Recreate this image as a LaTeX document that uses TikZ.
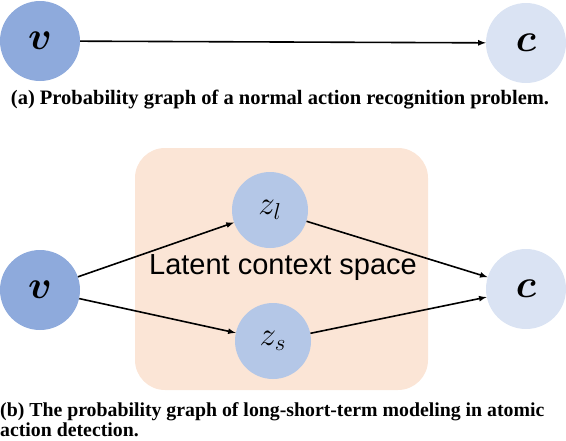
\documentclass[tikz,border=0pt]{standalone}
\usepackage{amsmath}
\usepackage{bm}
\usepackage{graphicx}
\usepackage{fontspec}
\setmainfont{Liberation Serif}
\newfontfamily\ctxfont{Liberation Sans}
\usepackage{tikz}

\definecolor{vblue}{RGB}{142,170,220}
\definecolor{zblue}{RGB}{180,199,231}
\definecolor{cblue}{RGB}{218,227,243}
\definecolor{peach}{RGB}{251,229,214}

\newcommand{\bigvar}[2]{\scalebox{#1}{$#2$}}

\begin{document}
\begin{tikzpicture}[x=1pt,y=-1pt,
  var/.style={circle, inner sep=0pt, minimum size=80pt, font=\fontsize{20}{20}\selectfont},
  vvar/.style={var, fill=vblue},
  zvar/.style={var, minimum size=76pt, fill=zblue},
  cvar/.style={var, fill=cblue},
  arr/.style={->, >=latex, line width=1.6pt},
  caption/.style={font=\fontsize{20.5}{20}\selectfont\bfseries}]

\useasboundingbox (0,0) rectangle (566,440);

% (a) einfacher Graph
\node[vvar] (va) at (40,41) {\bigvar{1.9}{\bm{v}}};
\node[cvar] (ca) at (526,43) {\bigvar{1.9}{\bm{c}}};
\draw[arr] (va) -- (ca);
\node[caption] (capa) at (280,100) {(a) Probability graph of a normal action recognition problem.};

% (b) Latenter Kontextraum
\fill[peach, rounded corners=30pt] (135,148) rectangle (428,390);
\node[font=\fontsize{29}{29}\selectfont\ctxfont] (ctx) at (283,268) {Latent context space};

\node[vvar] (vb) at (40,290) {\bigvar{1.9}{\bm{v}}};
\node[zvar] (zl) at (270,210) {\bigvar{1.6}{z_l}};
\node[zvar] (zs) at (273,341) {\bigvar{1.6}{z_s}};
\node[cvar] (cb) at (526,289) {\bigvar{1.9}{\bm{c}}};

\draw[arr] (vb) -- (zl);
\draw[arr] (vb) -- (zs);
\draw[arr] (zl) -- (cb);
\draw[arr] (zs) -- (cb);

\node[caption, font=\fontsize{19.8}{20}\selectfont\bfseries, anchor=north west, align=left, inner sep=0pt] (capb) at (0,402)
  {(b) The probability graph of long-short-term modeling in atomic\\action detection.};

\end{tikzpicture}
\end{document}
